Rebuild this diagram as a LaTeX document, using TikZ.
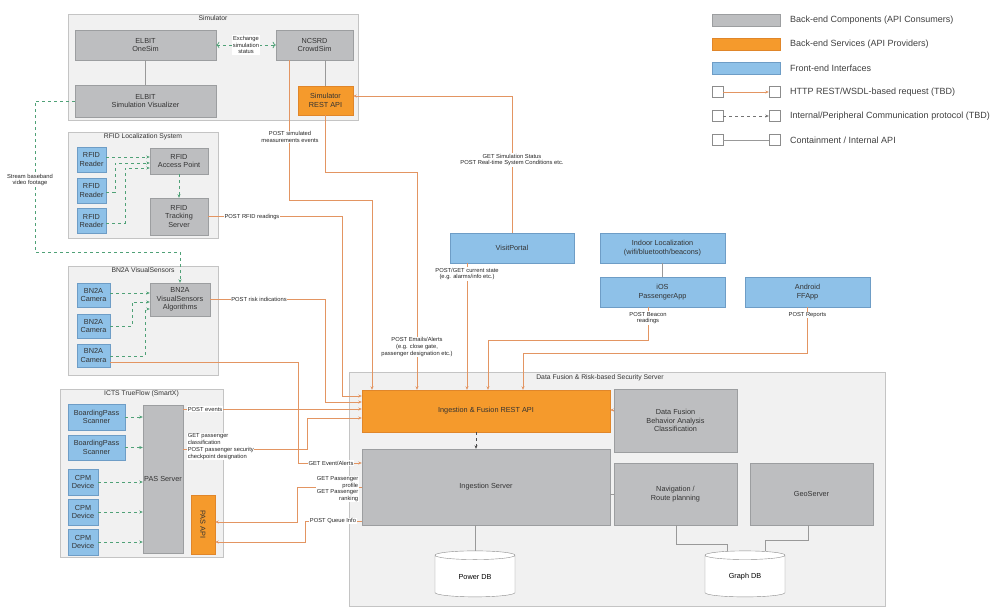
\documentclass[tikz,border=0pt]{standalone}
\usepackage{fontspec}
\setmainfont{Liberation Sans}
\usetikzlibrary{arrows.meta,positioning,shapes.geometric,calc}

\definecolor{backgrey}{HTML}{BDBEC0}
\definecolor{backline}{HTML}{9C9EA0}
\definecolor{serviceorange}{HTML}{F59A2C}
\definecolor{serviceline}{HTML}{E0862A}
\definecolor{frontblue}{HTML}{8EC1E8}
\definecolor{frontline}{HTML}{6E9DC6}
\definecolor{groupgrey}{HTML}{F1F1F1}
\definecolor{groupline}{HTML}{C4C4C4}
\definecolor{httporange}{HTML}{E39562}
\definecolor{perigreen}{HTML}{4FA177}

\begin{document}
\begin{tikzpicture}[x=1pt, y=-1pt,
	backend/.style={draw=backline, fill=backgrey, align=center, text=black!80, font=\fontsize{7.3}{8.3}\selectfont, inner sep=1pt},
	service/.style={backend, draw=serviceline, fill=serviceorange},
	frontend/.style={backend, draw=frontline, fill=frontblue},
	system/.style={draw=groupline, fill=groupgrey},
	grptitle/.style={font=\fontsize{6.8}{8}\selectfont, text=black!80, inner sep=1pt},
	lbl/.style={font=\fontsize{5.8}{6.8}\selectfont, fill=white, inner sep=0.6pt, align=center, text=black!85},
	dbase/.style={cylinder, shape border rotate=90, aspect=0.22, draw=black!45, fill=white, minimum width=80, minimum height=46, font=\fontsize{7.3}{8.3}\selectfont},
	http/.style={draw=httporange, line width=0.8pt, -{Stealth[length=3.5pt, width=3pt]}},
	peri/.style={draw=perigreen, line width=0.7pt, dashed, -{Stealth[length=3.5pt, width=3pt]}},
	contain/.style={draw=black!40, line width=0.6pt},
	legtext/.style={font=\fontsize{9}{10.5}\selectfont, anchor=west, text=black!75, inner sep=0},
	legbox/.style={draw=black!45, fill=white, minimum size=11, inner sep=0}
	]
		\fill[white] (0,0) rectangle (1006,608);
		\useasboundingbox (0,0) rectangle (1006,608);
		
		\node[system, minimum width=290, minimum height=106] (simulator) at (213,67) {};
		\node[grptitle, below=1pt of simulator.north] (simtitle) {Simulator};
		\node[system, minimum width=150, minimum height=106] (rfidsys) at (143,185) {};
		\node[grptitle, below=1pt of rfidsys.north] (rfidtitle) {RFID Localization System};
		\node[system, minimum width=150, minimum height=109] (bnsys) at (143,320.5) {};
		\node[grptitle, below=1pt of bnsys.north] (bntitle) {BN2A VisualSensors};
		\node[system, minimum width=163, minimum height=168] (ictssys) at (141.5,473) {};
		\node[grptitle, below=1pt of ictssys.north] (ictstitle) {ICTS TrueFlow (SmartX)};
		\node[system, minimum width=536, minimum height=234] (fusionsys) at (617,489) {};
		\node[grptitle, below=2pt of fusionsys.north, xshift=-17pt] (fusiontitle) {Data Fusion \& Risk-based Security Server};
		
		\node[backend, minimum width=141, minimum height=30] (elbitsim) at (145.5,45) {ELBIT\\OneSim};
		\node[backend, minimum width=77, minimum height=30] (ncsrd) at (314.5,45) {NCSRD\\CrowdSim};
		\node[backend, minimum width=141, minimum height=32] (visualizer) at (145.5,101) {ELBIT\\Simulation Visualizer};
		\node[service, minimum width=55, minimum height=29] (simapi) at (325.5,100.5) {Simulator\\REST API};
		
		\node[frontend, minimum width=29, minimum height=25] (reader1) at (91.5,159.5) {RFID\\Reader};
		\node[frontend, minimum width=29, minimum height=25] (reader2) at (91.5,190.5) {RFID\\Reader};
		\node[frontend, minimum width=29, minimum height=25] (reader3) at (91.5,221) {RFID\\Reader};
		\node[backend, minimum width=58, minimum height=26] (accesspt) at (179,161) {RFID\\Access Point};
		\node[backend, minimum width=58, minimum height=37] (tracking) at (179,216.5) {RFID\\Tracking\\Server};
		
		\node[frontend, minimum width=33, minimum height=24] (cam1) at (93.5,295) {BN2A\\Camera};
		\node[frontend, minimum width=33, minimum height=24] (cam2) at (93.5,326) {BN2A\\Camera};
		\node[frontend, minimum width=33, minimum height=23] (cam3) at (93.5,355.5) {BN2A\\Camera};
		\node[backend, minimum width=60, minimum height=33] (algos) at (180,299.5) {BN2A\\VisualSensors\\Algorithms};
		
		\node[frontend, minimum width=57, minimum height=26] (bps1) at (96.5,417) {BoardingPass\\Scanner};
		\node[frontend, minimum width=57, minimum height=25] (bps2) at (96.5,447.5) {BoardingPass\\Scanner};
		\node[frontend, minimum width=30, minimum height=26] (cpm1) at (83,482) {CPM\\Device};
		\node[frontend, minimum width=30, minimum height=26] (cpm2) at (83,512) {CPM\\Device};
		\node[frontend, minimum width=30, minimum height=26] (cpm3) at (83,542) {CPM\\Device};
		\node[backend, minimum width=40, minimum height=148] (pas) at (163,479) {PAS Server};
		\node[service, minimum width=24, minimum height=59] (pasapi) at (203,524.5) {};
		\node[rotate=-90, font=\fontsize{7.3}{8.3}\selectfont, text=black!80] (pasapitext) at (pasapi) {PAS API};
		
		\node[frontend, minimum width=124, minimum height=30] (portal) at (512,248) {VisitPortal};
		\node[frontend, minimum width=125, minimum height=30] (indoor) at (662.5,248) {Indoor Localization\\(wifi/bluetooth/beacons)};
		\node[frontend, minimum width=125, minimum height=30] (iosapp) at (662.5,292) {iOS\\PassengerApp};
		\node[frontend, minimum width=125, minimum height=30] (android) at (807.5,292) {Android\\FFApp};
		
		\node[service, minimum width=248, minimum height=42] (ingapi) at (486,411) {Ingestion \& Fusion REST API};
		\node[backend, minimum width=123, minimum height=63] (fusionbox) at (675.5,420.5) {Data Fusion\\Behavior Analysis\\Classification};
		\node[backend, minimum width=248, minimum height=76] (ingserver) at (486,487) {Ingestion Server};
		\node[backend, minimum width=123, minimum height=62] (navig) at (675.5,494) {Navigation /\\Route planning};
		\node[backend, minimum width=123, minimum height=62] (geo) at (811.5,494) {GeoServer};
		\node[dbase] (powerdb) at (475,577) {Power DB};
		\node[dbase] (graphdb) at (745,577) {Graph DB};
		
		\draw[peri, <->] (elbitsim.east) -- (ncsrd.west) node[lbl, midway] (exchlbl) {Exchange\\simulation\\status};
		\draw[contain] (elbitsim) -- (visualizer);
		\draw[contain] (simapi.north |- ncsrd.south) -- (simapi.north);
		\draw[peri] (visualizer.west) -| (35,252) -| (algos.north);
		
		\draw[peri] (reader1.east |- 0,157) -- (accesspt.west |- 0,157);
		\draw[peri] (reader2.east |- 0,192) -| (115,163) -- (accesspt.west |- 0,163);
		\draw[peri] (reader3.east |- 0,223) -| (125,168) -- (accesspt.west |- 0,168);
		\draw[peri] (accesspt) -- (tracking);
		
		\draw[peri] (cam1.east |- 0,293) -- (algos.west |- 0,293);
		\draw[peri] (cam2.east) -| (132,302) -- (algos.west |- 0,302);
		\draw[peri] (cam3.east |- 0,356) -| (145,309) -- (algos.west |- 0,309);
		
		\draw[peri] (bps1) -- (bps1 -| pas.west);
		\draw[peri] (bps2) -- (bps2 -| pas.west);
		\draw[peri] (cpm1) -- (cpm1 -| pas.west);
		\draw[peri] (cpm2) -- (cpm2 -| pas.west);
		\draw[peri] (cpm3) -- (cpm3 -| pas.west);
		
		\draw[http] (portal.north) |- (simapi.east |- 0,96);
		\draw[http] (ncsrd.south -| 289,0) |- (372,200) -- (ingapi.north -| 372,0);
		\draw[http] (simapi.south) |- (417,172) -- (ingapi.north -| 417,0);
		\draw[http] (portal.south -| 467,0) -- (ingapi.north -| 467,0);
		\draw[http] (iosapp.south -| 648,0) |- (488,340) -- (ingapi.north -| 488,0);
		\draw[http] (android.south) |- (523,353) -- (ingapi.north -| 523,0);
		\draw[http] (tracking.east) -| (342,396) -- (ingapi.west |- 0,396);
		\draw[http] (algos.east) -| (325,402) -- (ingapi.west |- 0,402);
		\draw[http] (pas.east |- 0,409) -- (ingapi.west |- 0,409);
		\draw[http] (pas.east |- 0,449) -| (307,418) -- (ingapi.west |- 0,418);
		\draw[http] (cam3.east |- 0,362) -| (298,463) -- (ingserver.west |- 0,463);
		\draw[http] (ingserver.west |- 0,487) -| (297,522) -- (pasapi.east |- 0,522);
		\draw[http] (ingserver.west |- 0,521) -| (305,542) -- (pasapi.east |- 0,542);
		\draw[contain] (indoor) -- (iosapp);
		
		\draw[black!70, line width=0.6pt, dashed, -{Stealth[length=3.5pt, width=3pt]}] (ingapi.south -| 476,0) -- (ingserver.north -| 476,0);
		\draw[http, dashed] (fusionbox.west |- 0,410) -- (ingapi.east |- 0,410);
		\draw[contain] (ingserver.east |- 0,494) -- (navig.west |- 0,494);
		\draw[contain] (ingserver.south -| powerdb.north) -- (powerdb.north);
		\draw[contain] (navig.south -| 676,0) |- (727,544) -- (graphdb.north -| 727,0);
		\draw[contain] (geo.south -| 808,0) |- (765,540) -- (graphdb.north -| 765,0);
		
		\node[lbl] (streamlbl) at (30,180) {Stream baseband\\video footage};
		\node[lbl] (simpostlbl) at (290,137) {POST simulated\\measurements events};
		\node[lbl] (simstatlbl) at (512,160) {GET Simulation Status\\POST Real-time System Conditions etc.};
		\node[lbl] (rfidlbl) at (252,216.5) {POST RFID readings};
		\node[lbl] (risklbl) at (259,299.5) {POST risk indications};
		\node[lbl] (portallbl) at (467,274) {POST/GET current state\\(e.g. alarms/info etc.)};
		\node[lbl] (alertlbl) at (417,347) {POST Emails/Alerts\\(e.g. close gate,\\passenger designation etc.)};
		\node[lbl] (beaconlbl) at (648,318) {POST Beacon\\readings};
		\node[lbl] (reportlbl) at (807.5,315) {POST Reports};
		\node[lbl, anchor=west] (eventlbl) at (187,409) {POST events};
		\node[lbl, anchor=north west, align=left] (classlbl) at (187,433) {GET passenger\\classification\\POST passenger security\\checkpoint designation};
		\node[lbl] (alarmlbl) at (331,463) {GET Event/Alerts};
		\node[lbl, anchor=east, align=right] (profilelbl) at (359,489) {GET Passenger\\profile\\GET Passenger\\ranking};
		\node[lbl] (queuelbl) at (333,521) {POST Queue Info};
		
		\node[backend, minimum width=68, minimum height=12] (legback) at (746,20) {};
		\node[legtext] (legbacktext) at (790,20) {Back-end Components (API Consumers)};
		\node[service, minimum width=68, minimum height=12] (legserv) at (746,44) {};
		\node[legtext] (legservtext) at (790,44) {Back-end Services (API Providers)};
		\node[frontend, minimum width=68, minimum height=12] (legfront) at (746,68) {};
		\node[legtext] (legfronttext) at (790,68) {Front-end Interfaces};
		\node[legbox] (leghttpa) at (717.5,92) {};
		\node[legbox] (leghttpb) at (774.5,92) {};
		\draw[http] (leghttpa) -- (leghttpb);
		\node[legtext] (leghttptext) at (790,92) {HTTP REST/WSDL-based request (TBD)};
		\node[legbox] (legperia) at (717.5,116) {};
		\node[legbox] (legperib) at (774.5,116) {};
		\draw[black!55, line width=0.7pt, dashed, -{Stealth[length=3.5pt, width=3pt]}] (legperia) -- (legperib);
		\node[legtext] (legperitext) at (790,116) {Internal/Peripheral Communication protocol (TBD)};
		\node[legbox] (legconta) at (717.5,140) {};
		\node[legbox] (legcontb) at (774.5,140) {};
		\draw[contain] (legconta) -- (legcontb);
		\node[legtext] (legconttext) at (790,140) {Containment / Internal API};
		
	\end{tikzpicture}
\end{document}
